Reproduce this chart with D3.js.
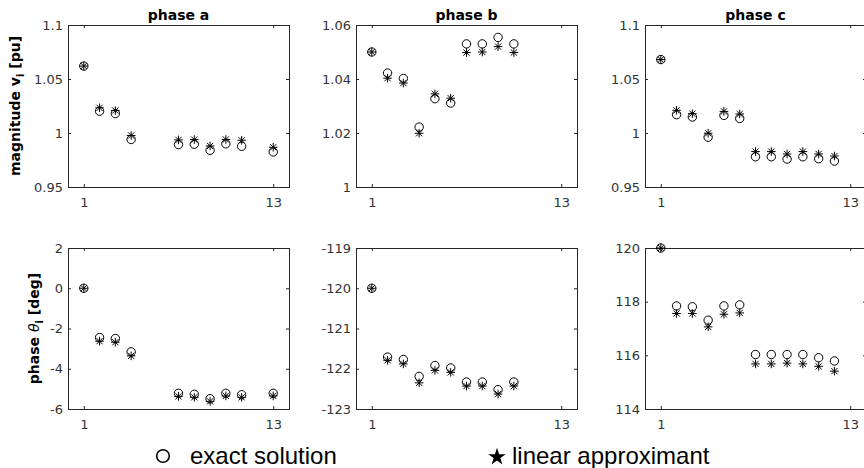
<!DOCTYPE html>
<html>
<head>
<meta charset="utf-8">
<script src="https://cdn.jsdelivr.net/npm/d3@7"></script>
<style>
  body { margin: 0; background: #fff; }
  text { font-family: "DejaVu Sans", sans-serif; }
</style>
</head>
<body>
<svg id="chart" width="864" height="468"></svg>
<script>
// Bus indices present in each phase
const busesA = [1, 2, 3, 4, 7, 8, 9, 10, 11, 13];
const busesB = [1, 2, 3, 4, 5, 6, 7, 8, 9, 10];
const busesC = [1, 2, 3, 4, 5, 6, 7, 8, 9, 10, 11, 12];

// Voltage magnitude [pu]
const magExactA = [1.062, 1.0202, 1.018, 0.994, 0.9893, 0.9896, 0.984, 0.990, 0.9877, 0.9825];
const magLinA   = [1.062, 1.0233, 1.0208, 0.9977, 0.9936, 0.9939, 0.988, 0.994, 0.9933, 0.9868];
const magExactB = [1.050, 1.0422, 1.0402, 1.0222, 1.0327, 1.0311, 1.053, 1.053, 1.0554, 1.053];
const magLinB   = [1.050, 1.0403, 1.0385, 1.0199, 1.0345, 1.0329, 1.0498, 1.050, 1.052, 1.0498];
const magExactC = [1.068, 1.017, 1.0148, 0.9961, 1.0163, 1.0135, 0.978, 0.978, 0.9759, 0.978, 0.9762, 0.974];
const magLinC   = [1.068, 1.021, 1.0179, 0.9998, 1.020, 1.0176, 0.9828, 0.9828, 0.9806, 0.9828, 0.9806, 0.9787];

// Voltage phase angle [deg]
const angExactA = [0, -2.45, -2.50, -3.16, -5.22, -5.27, -5.49, -5.22, -5.29, -5.22];
const angLinA   = [0, -2.63, -2.68, -3.36, -5.37, -5.42, -5.62, -5.35, -5.42, -5.35];
const angExactB = [-120, -121.71, -121.77, -122.19, -121.92, -121.98, -122.33, -122.33, -122.52, -122.33];
const angLinB   = [-120, -121.79, -121.88, -122.35, -122.04, -122.09, -122.43, -122.43, -122.63, -122.43];
const angExactC = [120, 117.84, 117.81, 117.31, 117.84, 117.88, 116.03, 116.03, 116.03, 116.03, 115.91, 115.79];
const angLinC   = [120, 117.56, 117.56, 117.06, 117.53, 117.58, 115.68, 115.68, 115.71, 115.68, 115.59, 115.41];

// Axis ranges and tick labels
const xDomain = [0, 14];
const xTicks = [1, 13];
const magTicksAC = [0.95, 1, 1.05, 1.1];
const magTicksB = [1, 1.02, 1.04, 1.06];
const angTicksA = [-6, -4, -2, 0, 2];
const angTicksB = [-123, -122, -121, -120, -119];
const angTicksC = [114, 116, 118, 120];

const titles = ["phase a", "phase b", "phase c"];
const legendLabels = ["exact solution", "linear approximant"];

const svg = d3.select("#chart");
const axisColor = "#262626";

const colLeft = [68, 356, 645];
const panelW = 221;
const rowTop = [25, 248];
const panelH = [162, 161];

const panels = [
  { col: 0, row: 0, buses: busesA, exact: magExactA, lin: magLinA, ticks: magTicksAC },
  { col: 1, row: 0, buses: busesB, exact: magExactB, lin: magLinB, ticks: magTicksB },
  { col: 2, row: 0, buses: busesC, exact: magExactC, lin: magLinC, ticks: magTicksAC },
  { col: 0, row: 1, buses: busesA, exact: angExactA, lin: angLinA, ticks: angTicksA },
  { col: 1, row: 1, buses: busesB, exact: angExactB, lin: angLinB, ticks: angTicksB },
  { col: 2, row: 1, buses: busesC, exact: angExactC, lin: angLinC, ticks: angTicksC }
];

// MATLAB-style asterisk marker
const asterisk = "M-4.3,0H4.3M0,-4.3V4.3M-3.1,-3.1L3.1,3.1M-3.1,3.1L3.1,-3.1";
const fmt = d => String(d).replace("\u2212", "-");

panels.forEach(p => {
  const w = panelW, h = panelH[p.row];
  const g = svg.append("g")
    .attr("transform", `translate(${colLeft[p.col]},${rowTop[p.row]})`);

  const x = d3.scaleLinear().domain(xDomain).range([0, w]);
  const y = d3.scaleLinear()
    .domain([p.ticks[0], p.ticks[p.ticks.length - 1]])
    .range([h, 0]);

  const styleAxis = sel => {
    sel.select(".domain").remove();
    sel.selectAll("line").attr("stroke", axisColor);
    sel.selectAll("text")
      .attr("fill", "#333")
      .style("font-size", "13px")
      .style("font-family", "'DejaVu Sans', sans-serif");
  };

  g.append("g").attr("transform", `translate(0,${h})`)
    .call(d3.axisBottom(x).tickValues(xTicks).tickFormat(fmt)
      .tickSizeInner(-3).tickSizeOuter(0).tickPadding(11))
    .call(styleAxis);
  g.append("g")
    .call(d3.axisTop(x).tickValues(xTicks).tickFormat("")
      .tickSizeInner(-3).tickSizeOuter(0))
    .call(styleAxis);
  g.append("g")
    .call(d3.axisLeft(y).tickValues(p.ticks).tickFormat(fmt)
      .tickSizeInner(-3).tickSizeOuter(0).tickPadding(5))
    .call(styleAxis);
  g.append("g").attr("transform", `translate(${w},0)`)
    .call(d3.axisRight(y).tickValues(p.ticks).tickFormat("")
      .tickSizeInner(-3).tickSizeOuter(0))
    .call(styleAxis);

  g.append("rect")
    .attr("x", 0.5).attr("y", 0.5)
    .attr("width", w).attr("height", h)
    .attr("fill", "none")
    .attr("stroke", axisColor)
    .attr("stroke-width", 1);

  const pts = p.buses.map((b, i) => ({ b, e: p.exact[i], l: p.lin[i] }));

  g.selectAll("circle.exact").data(pts).join("circle")
    .attr("class", "exact")
    .attr("cx", d => x(d.b)).attr("cy", d => y(d.e))
    .attr("r", 4.2)
    .attr("fill", "none").attr("stroke", "#000").attr("stroke-width", 1);

  g.selectAll("path.lin").data(pts).join("path")
    .attr("class", "lin")
    .attr("transform", d => `translate(${x(d.b)},${y(d.l)})`)
    .attr("d", asterisk)
    .attr("fill", "none").attr("stroke", "#000").attr("stroke-width", 1);

  if (p.row === 0) {
    g.append("text")
      .attr("x", w / 2).attr("y", -5)
      .attr("text-anchor", "middle")
      .style("font-size", "14px").style("font-weight", "bold")
      .attr("fill", "#000")
      .text(titles[p.col]);
  }
});

// Y-axis titles
const magLabel = svg.append("text")
  .attr("transform", `translate(19.5,${rowTop[0] + panelH[0] / 2}) rotate(-90)`)
  .attr("text-anchor", "middle")
  .style("font-size", "14px").style("font-weight", "bold")
  .attr("fill", "#000");
magLabel.append("tspan").text("magnitude v");
magLabel.append("tspan").attr("dy", 4).style("font-size", "10px").text("i");
magLabel.append("tspan").attr("dy", -4).text(" [pu]");

const angLabel = svg.append("text")
  .attr("transform", `translate(38.5,${rowTop[1] + panelH[1] / 2}) rotate(-90)`)
  .attr("text-anchor", "middle")
  .style("font-size", "14px").style("font-weight", "bold")
  .attr("fill", "#000");
angLabel.append("tspan").text("phase ");
angLabel.append("tspan").style("font-style", "italic").style("font-weight", "normal").text("\u03B8");
angLabel.append("tspan").attr("dy", 4).style("font-size", "10px").text("i");
angLabel.append("tspan").attr("dy", -4).text(" [deg]");

// Legend
const leg = svg.append("g");
leg.append("circle")
  .attr("cx", 163).attr("cy", 456).attr("r", 6.3)
  .attr("fill", "none").attr("stroke", "#000").attr("stroke-width", 1.6);
leg.append("text")
  .attr("x", 190).attr("y", 464)
  .style("font-family", "'Liberation Sans', Arial, sans-serif")
  .style("font-size", "24px").attr("fill", "#000")
  .text(legendLabels[0]);
leg.append("path")
  .attr("transform", "translate(497,457)")
  .attr("d", d3.symbol(d3.symbolStar, 95)())
  .attr("fill", "#000");
leg.append("text")
  .attr("x", 512).attr("y", 464)
  .style("font-family", "'Liberation Sans', Arial, sans-serif")
  .style("font-size", "24px").attr("fill", "#000")
  .text(legendLabels[1]);
</script>
</body>
</html>
